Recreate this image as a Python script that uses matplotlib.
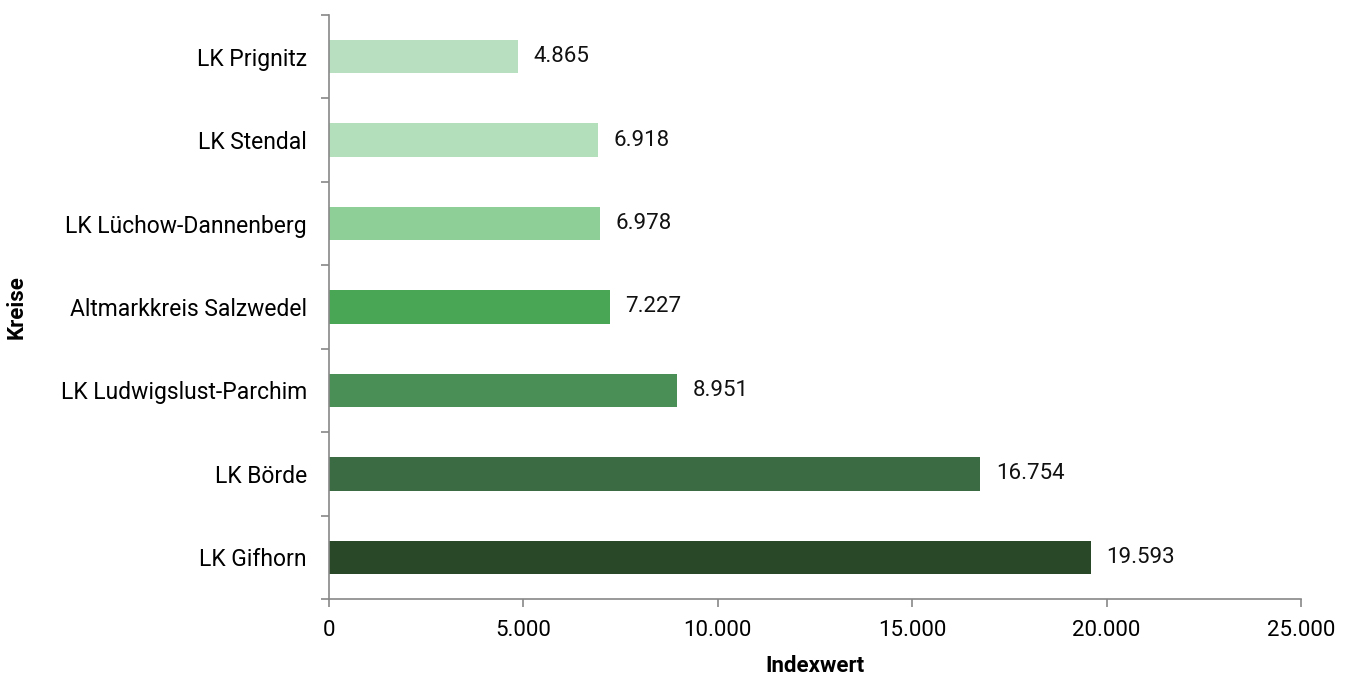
import matplotlib
matplotlib.use("Agg")
import matplotlib.pyplot as plt
from matplotlib.ticker import FuncFormatter, FixedLocator

plt.rcParams["font.family"] = ["Roboto", "DejaVu Sans"]

# data (top to bottom as shown)
kreise = ["LK Prignitz", "LK Stendal", "LK Lüchow-Dannenberg", "Altmarkkreis Salzwedel",
          "LK Ludwigslust-Parchim", "LK Börde", "LK Gifhorn"]
indexwert = [4865, 6918, 6978, 7227, 8951, 16754, 19593]
farben = ["#b8dfbf", "#b3e0bb", "#8ecf98", "#48a655", "#4a8f56", "#3a6b42", "#284827"]
x_ticks = [0, 5000, 10000, 15000, 20000, 25000]


def de_format(v, pos=None):
    return f"{v:,.0f}".replace(",", ".")


fig = plt.figure(figsize=(13.53, 6.75), dpi=100)
ax = fig.add_axes([0.2432, 0.1126, 0.7184, 0.8652])

y_pos = list(range(len(kreise)))[::-1]
ax.barh(y_pos, indexwert, height=0.4, color=farben)

for y, v in zip(y_pos, indexwert):
    ax.annotate(de_format(v), (v, y), xytext=(11, 0), textcoords="offset points",
                va="center", ha="left", fontsize=16, color="#111111")

ax.set_xlim(0, 25000)
ax.set_ylim(-0.5, len(kreise) - 0.5)
ax.xaxis.set_major_locator(FixedLocator(x_ticks))
ax.xaxis.set_major_formatter(FuncFormatter(de_format))

ax.set_yticks(y_pos)
ax.set_yticklabels(kreise)
ax.set_yticks([i - 0.5 for i in range(len(kreise) + 1)], minor=True)
ax.tick_params(axis="y", which="major", length=0, pad=16, labelsize=16.5)
ax.tick_params(axis="y", which="minor", length=6, width=1.2, color="#888888")
ax.tick_params(axis="x", length=6, width=1.2, color="#888888", labelsize=16, pad=9)

for s in ["top", "right"]:
    ax.spines[s].set_visible(False)
for s in ["left", "bottom"]:
    ax.spines[s].set_color("#888888")
    ax.spines[s].set_linewidth(1.2)

ax.set_xlabel("Indexwert", fontsize=16, fontweight="bold", labelpad=10)
ax.set_ylabel("Kreise", fontsize=16, fontweight="bold")
ax.yaxis.set_label_coords(-0.31, 0.5)

fig.savefig("out.png", dpi=100)
